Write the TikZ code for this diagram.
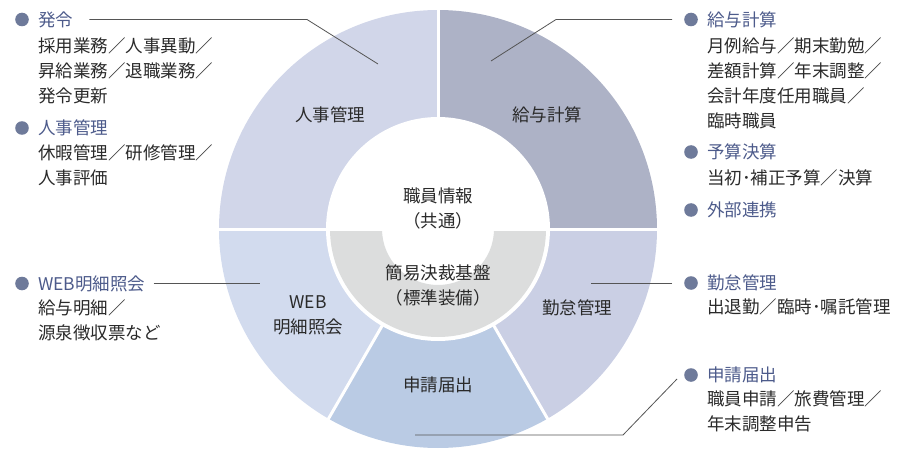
\documentclass[tikz,border=0pt]{standalone}
\usepackage{fontspec}
\setmainfont{Noto Sans CJK JP}
\usetikzlibrary{positioning}

\definecolor{jinji}{HTML}{D1D6E9}
\definecolor{kyuyo}{HTML}{ADB2C6}
\definecolor{kintai}{HTML}{CACFE4}
\definecolor{shinsei}{HTML}{BACBE4}
\definecolor{webm}{HTML}{D2DBEE}
\definecolor{kiban}{HTML}{DCDDDD}
\definecolor{dotblue}{HTML}{6E7A9A}
\definecolor{ttlblue}{HTML}{4D5B8B}
\definecolor{txtgray}{HTML}{2A2A2A}
\definecolor{leadgray}{HTML}{555555}

\newcommand{\listfont}{\fontsize{17.5}{25}\selectfont}

\begin{document}
\begin{tikzpicture}[x=1pt,y=1pt,
  ttl/.style={anchor=west,inner sep=0pt,text=ttlblue,font=\listfont},
  body/.style={anchor=north west,align=left,inner sep=0pt,text=txtgray,font=\listfont},
  seglabel/.style={align=center,inner sep=0pt,text=txtgray,font=\listfont},
  gap/.style={draw=white,line width=3pt},
  lead/.style={draw=leadgray,line width=0.8pt}]
  \useasboundingbox (0,0) rectangle (900,467);

  % ring
  \coordinate (ctr) at (438,238);
  \fill[kyuyo] (ctr) -- ++(0:219pt) arc[start angle=0,end angle=90,radius=219pt] -- cycle;
  \fill[jinji] (ctr) -- ++(90:219pt) arc[start angle=90,end angle=180,radius=219pt] -- cycle;
  \fill[webm] (ctr) -- ++(180:219pt) arc[start angle=180,end angle=240,radius=219pt] -- cycle;
  \fill[shinsei] (ctr) -- ++(240:219pt) arc[start angle=240,end angle=300,radius=219pt] -- cycle;
  \fill[kintai] (ctr) -- ++(300:219pt) arc[start angle=300,end angle=360,radius=219pt] -- cycle;
  \draw[gap] (ctr) -- ++(90:220pt);
  \draw[gap] (ctr) -- ++(240:220pt);
  \draw[gap] (ctr) -- ++(300:220pt);
  \fill[white] (ctr) circle[radius=112pt];
  \fill[kiban] (ctr) ++(180:108pt) arc[start angle=180,end angle=360,radius=108pt]
    -- ++(-52pt,0) arc[start angle=360,end angle=180,radius=56pt] -- cycle;
  \draw[gap] ([xshift=-220pt]ctr) -- ([xshift=220pt]ctr);

  % ring labels
  \node[seglabel] (s-jinji) at (330,352) {人事管理};
  \node[seglabel] (s-kyuyo) at (547,352) {給与計算};
  \node[seglabel] (s-shokuin) at (438,259) {職員情報\\（共通）};
  \node[seglabel] (s-kiban) at (438,181.5) {簡易決裁基盤\\（標準装備）};
  \node[seglabel] (s-web) at (308,152) {WEB\\明細照会};
  \node[seglabel] (s-kintai) at (577,159) {勤怠管理};
  \node[seglabel] (s-shinsei) at (438,82) {申請届出};

  % left lists
  \node[ttl] (t-hatsurei) at (38,447.5) {発令};
  \node[body] (b-hatsurei) at (38,429.5) {採用業務／人事異動／\\昇給業務／退職業務／\\発令更新};
  \node[ttl] (t-jinji) at (38,339) {人事管理};
  \node[body] (b-jinji) at (38,322.5) {休暇管理／研修管理／\\人事評価};
  \node[ttl] (t-web) at (38,183.5) {WEB明細照会};
  \node[body] (b-web) at (38,167.5) {給与明細／\\源泉徴収票など};

  % right lists
  \node[ttl] (t-kyuyo) at (707,447.5) {給与計算};
  \node[body] (b-kyuyo) at (707,429.5) {月例給与／期末勤勉／\\差額計算／年末調整／\\会計年度任用職員／\\臨時職員};
  \node[ttl] (t-yosan) at (707,315) {予算決算};
  \node[body] (b-yosan) at (707,297.5) {当初･補正予算／決算};
  \node[ttl] (t-gaibu) at (707,257) {外部連携};
  \node[ttl] (t-kintai) at (707,184) {勤怠管理};
  \node[body] (b-kintai) at (707,168.5) {出退勤／臨時･嘱託管理};
  \node[ttl] (t-shinsei) at (707,92) {申請届出};
  \node[body] (b-shinsei) at (707,76.5) {職員申請／旅費管理／\\年末調整申告};

  % bullets
  \fill[dotblue] ([xshift=-16pt]t-hatsurei.west) circle[radius=6.8pt];
  \fill[dotblue] ([xshift=-16pt]t-jinji.west) circle[radius=6.8pt];
  \fill[dotblue] ([xshift=-16pt]t-web.west) circle[radius=6.8pt];
  \fill[dotblue] ([xshift=-16pt]t-kyuyo.west) circle[radius=6.8pt];
  \fill[dotblue] ([xshift=-16pt]t-yosan.west) circle[radius=6.8pt];
  \fill[dotblue] ([xshift=-16pt]t-gaibu.west) circle[radius=6.8pt];
  \fill[dotblue] ([xshift=-16pt]t-kintai.west) circle[radius=6.8pt];
  \fill[dotblue] ([xshift=-16pt]t-shinsei.west) circle[radius=6.8pt];

  % leader lines
  \coordinate (k-hatsurei) at (307,447.5);
  \coordinate (e-hatsurei) at (378,403);
  \coordinate (k-kyuyo) at (556,447.5);
  \coordinate (e-kyuyo) at (491,406);
  \coordinate (e-web) at (260,183.5);
  \coordinate (e-kintai) at (591,184);
  \coordinate (k-shinsei) at (623,32);
  \coordinate (e-shinsei) at (415,32);
  \draw[lead] ([xshift=16pt]t-hatsurei.east) -- (k-hatsurei) -- (e-hatsurei);
  \draw[lead] ([xshift=-35pt]t-kyuyo.west) -- (k-kyuyo) -- (e-kyuyo);
  \draw[lead] ([xshift=8pt]t-web.east) -- (e-web);
  \draw[lead] ([xshift=-35pt]t-kintai.west) -- (e-kintai);
  \draw[lead] ([xshift=-30pt,yshift=-4pt]t-shinsei.west) -- (k-shinsei) -- (e-shinsei);
\end{tikzpicture}
\end{document}
